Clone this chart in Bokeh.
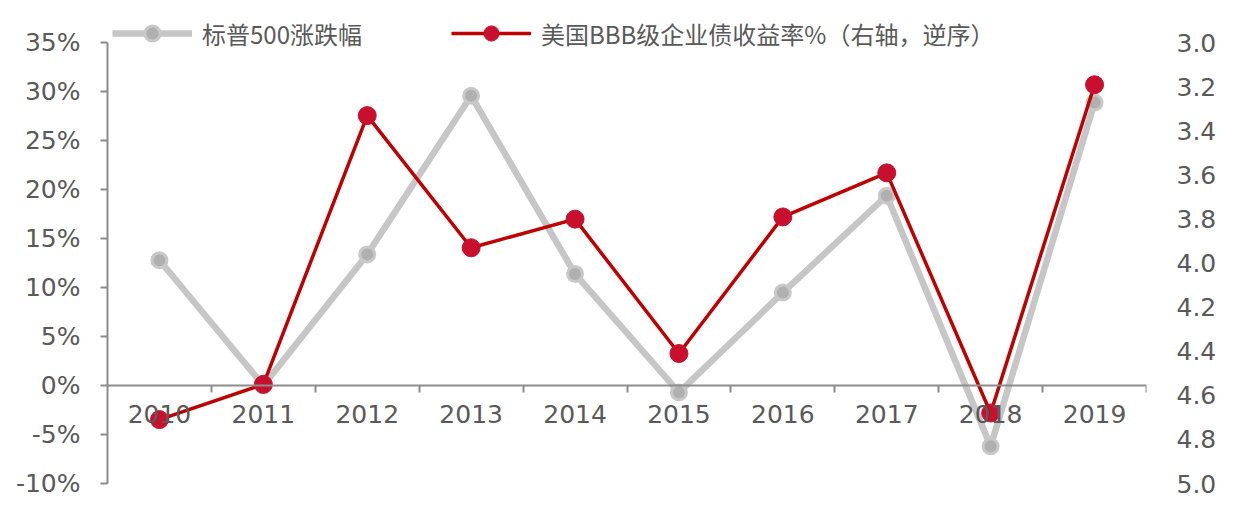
from bokeh.plotting import figure
from bokeh.models import (Range1d, LinearAxis, FixedTicker, PrintfTickFormatter,
                          NumeralTickFormatter, Legend, LegendItem)
from bokeh.embed import file_html
from bokeh.resources import INLINE

years = ["2010", "2011", "2012", "2013", "2014", "2015", "2016", "2017", "2018", "2019"]
sp500_pct = [12.8, 0.0, 13.4, 29.6, 11.4, -0.7, 9.5, 19.4, -6.2, 28.9]
bbb_yield = [4.71, 4.55, 3.33, 3.93, 3.80, 4.41, 3.79, 3.59, 4.68, 3.19]
left_ticks = [-10, -5, 0, 5, 10, 15, 20, 25, 30, 35]
right_ticks = [3.0, 3.2, 3.4, 3.6, 3.8, 4.0, 4.2, 4.4, 4.6, 4.8, 5.0]
name_sp = "标普500涨跌幅"
name_bbb = "美国BBB级企业债收益率%（右轴，逆序）"

xs = list(range(len(years)))

GREY_TXT = "#595959"
AXIS_C = "#8c8c8c"
TICK_FONT = "DejaVu Sans"

# head-room above the top tick so the legend sits inside the frame
head = 3.0
l_lo, l_hi = left_ticks[0], left_ticks[-1]
r_top, r_bot = right_ticks[0], right_ticks[-1]
r_end = r_top - head * (r_bot - r_top) / (l_hi - l_lo)

p = figure(width=1231, height=499, output_backend="svg", toolbar_location=None,
           x_range=Range1d(-0.5, len(years) - 0.5),
           y_range=Range1d(l_lo, l_hi + head),
           min_border_left=107, min_border_right=85, min_border_top=13, min_border_bottom=16)
p.extra_y_ranges = {"yield": Range1d(r_bot, r_end)}
p.outline_line_color = None
p.xgrid.visible = False
p.ygrid.visible = False
p.background_fill_color = "white"
p.border_fill_color = "white"

# x axis at y = 0
xa = p.xaxis[0]
xa.fixed_location = 0
xa.ticker = FixedTicker(ticks=xs, minor_ticks=[i + 0.5 for i in xs])
xa.major_label_overrides = {i: y for i, y in enumerate(years)}
xa.axis_line_color = AXIS_C
xa.axis_line_width = 2
xa.major_tick_line_color = None
xa.major_tick_out = 0
xa.major_tick_in = 0
xa.minor_tick_line_color = AXIS_C
xa.minor_tick_line_width = 2
xa.minor_tick_out = 7
xa.minor_tick_in = 0
xa.major_label_standoff = 12
xa.major_label_text_font = TICK_FONT
xa.major_label_text_font_size = "25px"
xa.major_label_text_color = GREY_TXT

# left axis
ya = p.yaxis[0]
ya.bounds = (l_lo, l_hi)
ya.ticker = FixedTicker(ticks=left_ticks, minor_ticks=[])
ya.formatter = PrintfTickFormatter(format="%d%%")
ya.axis_line_color = AXIS_C
ya.axis_line_width = 2
ya.major_tick_line_color = AXIS_C
ya.major_tick_line_width = 2
ya.major_tick_out = 7
ya.major_tick_in = 0
ya.minor_tick_line_color = None
ya.major_label_standoff = 20
ya.major_label_text_font = TICK_FONT
ya.major_label_text_font_size = "25px"
ya.major_label_text_color = GREY_TXT

# right axis (reversed yield)
ra = LinearAxis(y_range_name="yield")
ra.ticker = FixedTicker(ticks=right_ticks, minor_ticks=[])
ra.formatter = NumeralTickFormatter(format="0.0")
ra.axis_line_color = None
ra.major_tick_line_color = None
ra.minor_tick_line_color = None
ra.major_tick_out = 0
ra.major_tick_in = 0
ra.major_label_standoff = 30
ra.major_label_text_font = TICK_FONT
ra.major_label_text_font_size = "25px"
ra.major_label_text_color = GREY_TXT
p.add_layout(ra, "right")

# series
gl = p.line(xs, sp500_pct, line_color="#c6c6c6", line_width=6.5)
gs = p.scatter(xs, sp500_pct, size=15, fill_color="#b0b0b0", line_color="#c8c8c8", line_width=3)
rl = p.line(xs, bbb_yield, y_range_name="yield", line_color="#c00000", line_width=3.5)
rs = p.scatter(xs, bbb_yield, y_range_name="yield", size=18, fill_color="#c8102e",
               line_color="#c8102e", line_width=1)

def make_legend(item, loc):
    return Legend(items=[item], location=loc, orientation="horizontal",
                  glyph_width=80, glyph_height=38, label_standoff=10,
                  padding=0, margin=0, border_line_color=None, background_fill_alpha=0,
                  label_text_font="Noto Sans CJK SC", label_text_font_size="24px",
                  label_text_color=GREY_TXT)

p.add_layout(make_legend(LegendItem(label=name_sp, renderers=[gl, gs]), (5, 431)))
p.add_layout(make_legend(LegendItem(label=name_bbb, renderers=[rl, rs]), (344, 431)))

open("out.html", "w").write(file_html(p, INLINE))
